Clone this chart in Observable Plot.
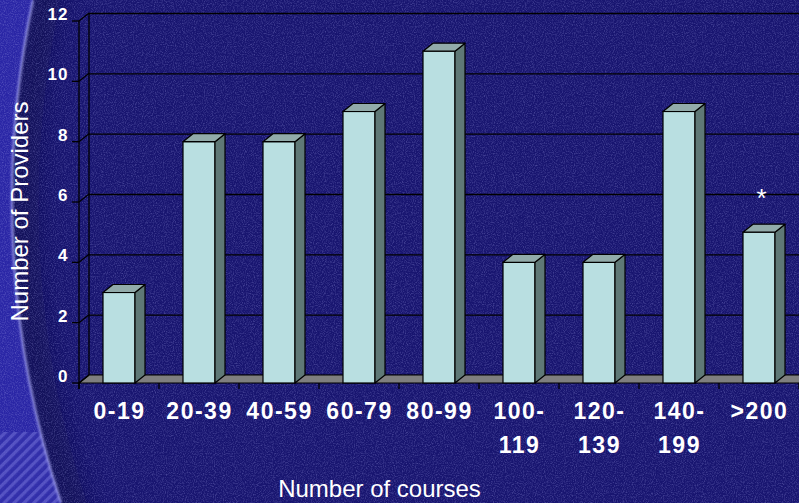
<!DOCTYPE html>
<html>
<head>
<meta charset="utf-8">
<script src="https://cdn.jsdelivr.net/npm/d3@7"></script>
<script src="https://cdn.jsdelivr.net/npm/@observablehq/plot@0.6"></script>
<style>
  html, body { margin: 0; padding: 0; background: #1a1774; }
  #chart { width: 799px; height: 503px; overflow: hidden; }
</style>
</head>
<body>
<div id="chart"></div>
<script>
// Course-count bands and how many providers fall in each
const categories = ["0-19", "20-39", "40-59", "60-79", "80-99", "100-\n119", "120-\n139", "140-\n199", ">200"];
const providers = [3, 8, 8, 9, 11, 4, 4, 9, 5];
const yTicks = [0, 2, 4, 6, 8, 10, 12];
const noteCategories = [">200"];
const noteLabels = ["*"];

const rows = categories.map((c, i) => ({category: c, value: providers[i]}));
const notes = noteCategories.map((c, i) => ({category: c, value: providers[categories.indexOf(c)], label: noteLabels[i]}));

// depth of the 3-D box (screen offset of the back plane)
const depthX = 10, depthY = -8;
const font = "'Liberation Sans', Arial, Helvetica, sans-serif";

const plot = Plot.plot({
  width: 799,
  height: 503,
  marginLeft: 79,
  marginRight: 0,
  marginTop: 21,
  marginBottom: 120,
  style: {background: "transparent", fontFamily: font, color: "white", overflow: "hidden"},
  x: {domain: categories, paddingInner: 0.6, paddingOuter: 0.3, axis: null},
  y: {domain: [0, 12], axis: null},
  marks: [
    // gridlines on the back wall
    Plot.ruleY(yTicks, {dx: depthX, dy: depthY, stroke: "#000", strokeWidth: 1.3}),
    // front faces of the columns
    Plot.barY(rows, {x: "category", y: "value", fill: "#b9dfe1", stroke: "#000", strokeWidth: 1.2}),
    // value axis labels
    Plot.text(yTicks, {y: d => d, text: d => String(d), frameAnchor: "left", textAnchor: "end", lineAnchor: "middle",
      dx: -11, dy: -7, fill: "white", fontSize: 17, fontWeight: "bold"}),
    // category labels
    Plot.text(rows, {x: "category", y: () => 0, text: "category", lineAnchor: "top", dy: 12, lineHeight: 1.45,
      fill: "white", fontSize: 23, fontWeight: "bold"}),
    // footnote marker
    Plot.text(notes, {x: "category", y: "value", text: "label", dx: 2, dy: -34, fill: "white", fontSize: 26}),
    // axis titles
    Plot.text(["Number of courses"], {text: d => d, frameAnchor: "bottom", textAnchor: "middle", lineAnchor: "middle",
      dx: -60, dy: 106, fill: "white", fontSize: 24}),
    Plot.text(["Number of Providers"], {text: d => d, frameAnchor: "left", textAnchor: "middle", lineAnchor: "middle",
      rotate: -90, dx: -59, dy: 9, fill: "white", fontSize: 24})
  ]
});

document.getElementById("chart").appendChild(plot);

// wider letter spacing for the bold tick labels
const textGroups = plot.querySelectorAll('g[aria-label="text"]');
if (textGroups[0]) textGroups[0].style.letterSpacing = "1px";
if (textGroups[1]) textGroups[1].style.letterSpacing = "1.5px";

// ---- 3-D box, column sides and backdrop, placed with the plot's own scales ----
const svg = d3.select(plot);
const xs = plot.scale("x");
const ys = plot.scale("y");
const X = v => xs.apply(v);
const Y = v => ys.apply(v);
const bw = xs.bandwidth;
const step = X(categories[1]) - X(categories[0]);
const L = xs.range[0], R = xs.range[1];
const y0 = Y(0), yTop = Y(yTicks[yTicks.length - 1]);
const ns = "http://www.w3.org/2000/svg";
const pts = a => a.map(p => p.join(",")).join(" ");

// backdrop
const defs = svg.insert("defs", ":first-child");
const noise = defs.append("filter").attr("id", "grain").attr("x", 0).attr("y", 0).attr("width", "100%").attr("height", "100%");
noise.append("feTurbulence").attr("type", "fractalNoise").attr("baseFrequency", 0.9).attr("numOctaves", 2).attr("seed", 3);
noise.append("feColorMatrix").attr("type", "matrix")
  .attr("values", "0 0 0 0 0.4  0 0 0 0 0.4  0 0 0 0 0.85  0.7 0 0 0 -0.3");
const soft = defs.append("filter").attr("id", "soft").attr("x", "-50%").attr("y", "-10%").attr("width", "200%").attr("height", "120%");
soft.append("feGaussianBlur").attr("stdDeviation", 1.2);
const shade = defs.append("filter").attr("id", "shade").attr("x", "-50%").attr("y", "-10%").attr("width", "200%").attr("height", "120%");
shade.append("feGaussianBlur").attr("stdDeviation", 12);
const hatch = defs.append("pattern").attr("id", "hatch").attr("patternUnits", "userSpaceOnUse")
  .attr("width", 7).attr("height", 7).attr("patternTransform", "rotate(45)");
hatch.append("rect").attr("width", 7).attr("height", 7).attr("fill", "#3330ab");
hatch.append("rect").attr("width", 3.2).attr("height", 7).attr("fill", "#5e5cc9");

const arc = "M33,0 A963,963 0 0,0 61,503";
const bg = svg.insert("g", "defs + *").attr("class", "backdrop");
bg.append("rect").attr("width", 799).attr("height", 503).attr("fill", "#181570");
bg.append("path").attr("d", "M48,-20 A963,963 0 0,0 76,523").attr("fill", "none")
  .attr("stroke", "#0b0a44").attr("stroke-width", 34).attr("opacity", 0.55).attr("filter", "url(#shade)");
bg.append("path").attr("d", arc + " L0,503 L0,0 Z").attr("fill", "#2a26a6");
bg.append("rect").attr("width", 799).attr("height", 503).attr("filter", "url(#grain)");
bg.append("path").attr("d", "M0,432 L40.4,432 A963,963 0 0,0 61,503 L0,503 Z").attr("fill", "url(#hatch)").attr("opacity", 0.8);
bg.append("path").attr("d", arc).attr("fill", "none").attr("stroke", "#9d9de8").attr("stroke-width", 2.4)
  .attr("opacity", 0.85).attr("filter", "url(#soft)");

// walls and floor, behind the columns
const barGroup = plot.querySelector('g[aria-label="bar"]');
const box = d3.select(plot.insertBefore(document.createElementNS(ns, "g"), barGroup));
box.append("polygon")
  .attr("points", pts([[L, y0], [R, y0], [R + depthX, y0 + depthY], [L + depthX, y0 + depthY]]))
  .attr("fill", "#7f7f7f").attr("stroke", "#000").attr("stroke-width", 1.2);
box.append("line").attr("x1", L + depthX).attr("x2", L + depthX).attr("y1", yTop + depthY).attr("y2", y0 + depthY)
  .attr("stroke", "#000").attr("stroke-width", 1.3);
box.append("line").attr("x1", L).attr("x2", L).attr("y1", yTop).attr("y2", y0 + 6)
  .attr("stroke", "#000").attr("stroke-width", 1.3);
for (const t of yTicks) {
  box.append("line").attr("x1", L - 7).attr("x2", L).attr("y1", Y(t)).attr("y2", Y(t)).attr("stroke", "#000").attr("stroke-width", 1.3);
  box.append("line").attr("x1", L).attr("x2", L + depthX).attr("y1", Y(t)).attr("y2", Y(t) + depthY).attr("stroke", "#000").attr("stroke-width", 1.3);
}
for (let i = 0; i <= categories.length; i++) {
  const xb = L + i * step;
  box.append("line").attr("x1", xb).attr("x2", xb).attr("y1", y0).attr("y2", y0 + 6).attr("stroke", "#000").attr("stroke-width", 1.3);
}

// column sides and tops
const faces = d3.select(plot.insertBefore(document.createElementNS(ns, "g"), barGroup.nextSibling));
for (const r of rows) {
  const xl = X(r.category), xr = xl + bw, yt = Y(r.value);
  faces.append("polygon")
    .attr("points", pts([[xr, y0], [xr + depthX, y0 + depthY], [xr + depthX, yt + depthY], [xr, yt]]))
    .attr("fill", "#5f7876").attr("stroke", "#000").attr("stroke-width", 1.2).attr("stroke-linejoin", "round");
  faces.append("polygon")
    .attr("points", pts([[xl, yt], [xl + depthX, yt + depthY], [xr + depthX, yt + depthY], [xr, yt]]))
    .attr("fill", "#92abaa").attr("stroke", "#000").attr("stroke-width", 1.2).attr("stroke-linejoin", "round");
}
</script>
</body>
</html>
